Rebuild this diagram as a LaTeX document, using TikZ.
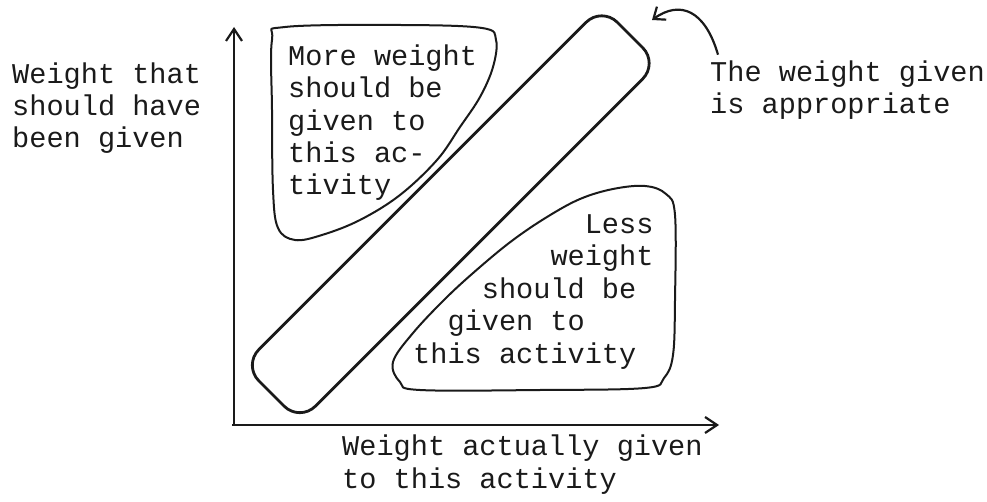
\documentclass[tikz,border=0pt]{standalone}
\usepackage{fontspec}
\setmonofont{Liberation Mono}
\usetikzlibrary{arrows.meta}
\definecolor{ink}{HTML}{1A1A1A}
\newcommand\cols[1]{\hphantom{#1}}
\tikzset{
  typed/.style={font=\ttfamily\fontsize{28.6}{32.4}\selectfont,text=ink,inner sep=0pt,
    anchor=base west,align=left},
  axis/.style={draw=ink,line width=2.2pt,-{Straight Barb[length=12pt,width=16pt]}},
  pointer/.style={draw=ink,line width=2.2pt,-{Straight Barb[length=10pt,width=16pt]}},
  band/.style={draw=ink,line width=2.8pt,rectangle,rounded corners=22pt,rotate=45,
    minimum width=507pt,minimum height=80pt},
  blob/.style={draw=ink,line width=2pt}
}

\begin{document}
\begin{tikzpicture}[x=1pt,y=-1pt]
  \useasboundingbox (0,0) rectangle (987,502);
  % axes
  \coordinate (origin) at (234,425);
  \coordinate (ytop) at (234,27);
  \coordinate (xend) at (719,425);
  \draw[axis] (origin) -- (ytop);
  \draw[axis] ([xshift=-2pt]origin) -- (xend);
  % the diagonal band
  \node[band] (fit) at (450.75,214.25) {};
  % regions either side of it
  \draw[blob] plot[smooth cycle,tension=0.6] coordinates {(272,40) (285,27) (400,25) (482,28) (496,40)
    (493,67) (480,97) (460,127) (437,160) (400,195) (360,220) (322,235) (295,240) (278,228) (273,190) (272,110)};
  \draw[blob] plot[smooth cycle,tension=0.6] coordinates {(547,217) (580,199) (613,189) (645,186) (666,194)
    (675,215) (675,300) (673,355) (664,378) (645,388) (540,390) (420,390) (400,382) (393,362) (413,333)
    (447,297) (480,267) (513,240)};
  % texts (base = last line)
  \node[typed] (ylab) at (12,148) {Weight that\\should have\\been given};
  \node[typed] (more) at (288,195) {More weight\\should be\\given to\\this ac-\\tivity};
  \node[typed] (less) at (413,363) {\cols{xxxxxxxxxx}Less\\\cols{xxxxxxxx}weight\\
    \cols{xxxx}should be\\\cols{xx}given to\\this activity};
  \node[typed] (appr) at (710,114) {The weight given\\is appropriate};
  \node[typed] (xlab) at (342,488) {Weight actually given\\to this activity};
  \coordinate (tip) at (652,20);
  \draw[pointer] ([xshift=8pt,yshift=6pt]appr.north west) .. controls (705,10) and (680,0) .. (tip);
\end{tikzpicture}
\end{document}
